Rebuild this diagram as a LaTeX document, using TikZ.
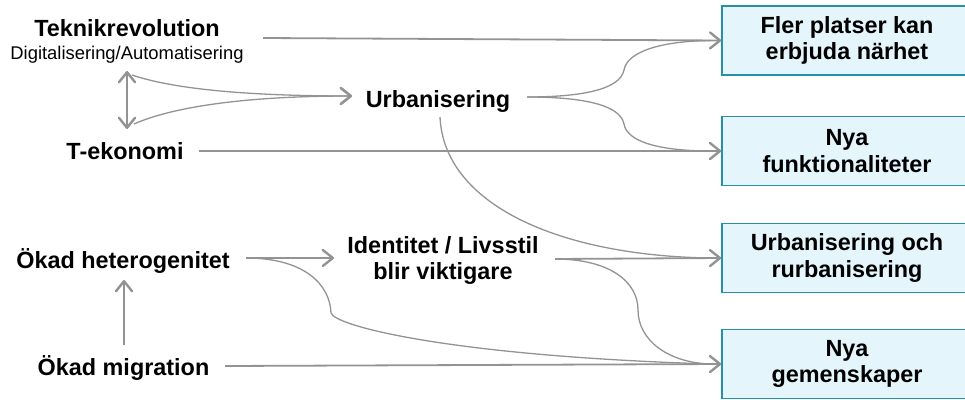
\documentclass[tikz,border=0pt]{standalone}
\usepackage{fontspec}
\setmainfont{Liberation Sans}
\usetikzlibrary{arrows.meta,calc}
\definecolor{linegray}{HTML}{939393}
\definecolor{boxedge}{HTML}{2690A6}
\definecolor{boxfill}{HTML}{E4F5FB}
\tikzset{
  lbl/.style={font=\fontsize{23.4}{26.5}\selectfont\bfseries, inner sep=0pt, anchor=base},
  sublbl/.style={font=\fontsize{18.4}{21}\selectfont, inner sep=0pt, anchor=base},
  outcome/.style={draw=boxedge, fill=boxfill, line width=1.6pt, minimum width=250pt,
    minimum height=69pt, align=center, inner sep=0pt,
    font=\fontsize{23.4}{26.5}\selectfont\bfseries},
  barb/.tip={Straight Barb[length=10pt,width=16pt,line width=2.4pt,round]},
  link/.style={draw=linegray, line width=1.8pt, -barb},
  twoway/.style={draw=linegray, line width=1.8pt, barb-barb},
  branch/.style={draw=linegray, line width=1.3pt},
}
\begin{document}
\begin{tikzpicture}[x=1pt, y=-1pt]
\useasboundingbox (0,0) rectangle (965,399);
\clip (0,0) rectangle (965,399);

% outcome boxes on the right
\node[outcome] (box1) at (847,40.5) {Fler platser kan\\erbjuda närhet};
\node[outcome] (box2) at (847,151) {Nya\\funktionaliteter};
\node[outcome] (box3) at (847,258) {Urbanisering och\\rurbanisering};
\node[outcome] (box4) at (847,364) {Nya\\gemenskaper};

% drivers
\node[lbl] (tek) at (127,36.5) {Teknikrevolution};
\node[sublbl] (dig) at (127,59) {Digitalisering/Automatisering};
\node[lbl] (tekon) at (125,159) {T-ekonomi};
\node[lbl] (urb) at (438,107.5) {Urbanisering};
\node[lbl] (het) at (123,268) {Ökad heterogenitet};
\node[lbl] (mig) at (123.5,375) {Ökad migration};
\node[lbl, align=center, anchor=center] (ident) at (443,260.5) {Identitet / Livsstil\\blir viktigare};

% connector ends
\coordinate (tekout) at (263,38);
\coordinate (dtop) at (127,71);
\coordinate (dbot) at (127,129);
\coordinate (ctop) at (132,75);
\coordinate (cbot) at (134,124);
\coordinate (urbin) at (352,96);
\coordinate (urbout) at (527,97);
\coordinate (urbdown) at (440,117);
\coordinate (tekonout) at (199,151);
\coordinate (hetout) at (246,258);
\coordinate (identin) at (334,258);
\coordinate (identout) at (555,259);
\coordinate (migout) at (225,366);
\coordinate (migup) at (124,345);
\coordinate (hetin) at (124,280);

% straight arrows into the boxes
\draw[link] (tekout) -- (box1.west);
\draw[link] (tekonout) -- (box2.west);
\draw[link] (identout) -- (box3.west);
\draw[link] (migout) -- (box4.west);

% arrows between drivers
\draw[twoway] (dbot) -- (dtop);
\draw[link] (migup) -- (hetin);
\draw[link] (hetout) -- (identin);

% converging curves into Urbanisering
\draw[branch, -barb] (ctop) .. controls (170,88) and (240,96) .. (urbin);
\draw[branch, -barb] (cbot) .. controls (170,108) and (240,96) .. (urbin);

% branching curves out of Urbanisering
\draw[branch] (urbout) .. controls (580,97) and (620,90) .. (624,70)
  .. controls (627,52) and (660,41) .. ([xshift=-10pt]box1.west);
\draw[branch] (urbout) .. controls (580,97) and (620,104) .. (624,124)
  .. controls (627,142) and (660,151) .. ([xshift=-10pt]box2.west);
\draw[branch] (urbdown) .. controls (444,205) and (560,256) .. ([xshift=-10pt]box3.west);

% branching curves towards Nya gemenskaper
\draw[branch] (identout) .. controls (610,259) and (638,282) .. (638,310)
  .. controls (638,340) and (668,363) .. ([xshift=-10pt]box4.west);
\draw[branch] (hetout) .. controls (305,258) and (330,285) .. (331,313)
  .. controls (335,326) and (450,356) .. ([xshift=-10pt]box4.west);
\end{tikzpicture}
\end{document}
